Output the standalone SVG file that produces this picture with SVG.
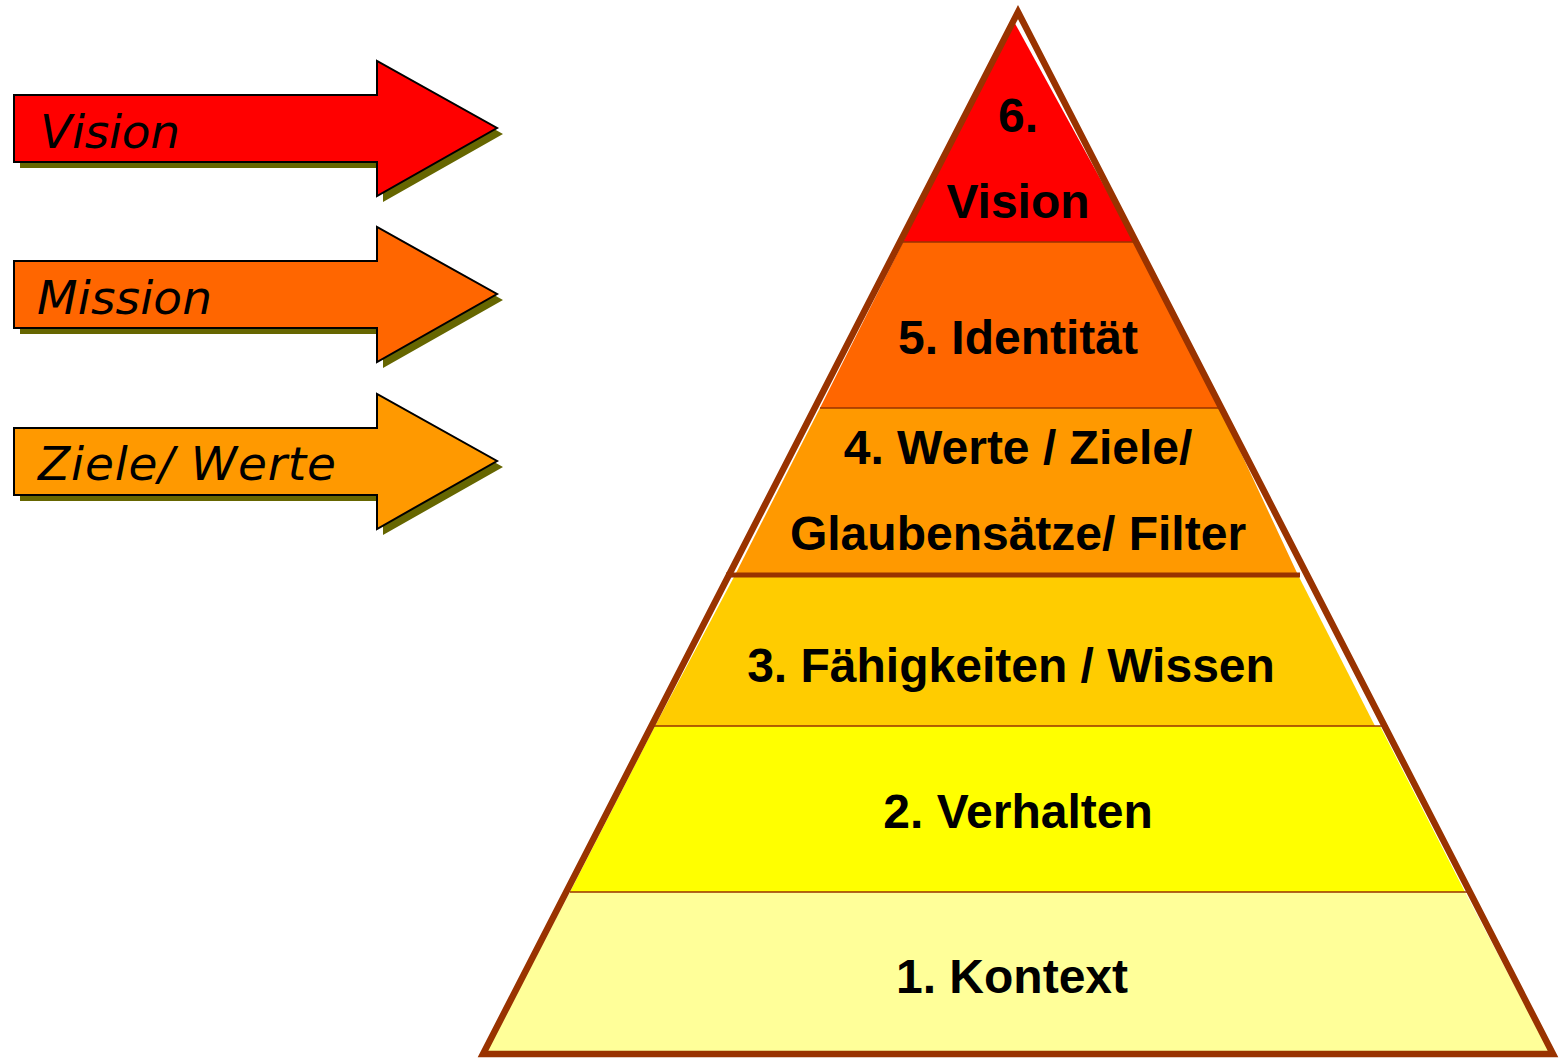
<svg xmlns="http://www.w3.org/2000/svg" width="1559" height="1058" viewBox="0 0 1559 1058">
<style>
.lbl{font-family:"Liberation Sans",Arial,sans-serif;font-weight:bold;font-size:48px;fill:#000;text-anchor:middle}
.arr{font-family:"DejaVu Sans",Verdana,sans-serif;font-style:italic;font-size:47px;fill:#000}
.sep{stroke:#993300;stroke-width:1.5}
.arrow{stroke:#000;stroke-width:2;stroke-linejoin:miter}
.shadow{fill:#666600}
</style>
<defs>
<path id="arrowShape" d="M14,95 H377 V61 L497,128 L377,196 V162 H14 Z"/>
</defs>
<rect width="1559" height="1058" fill="#fff"/>

<g id="arrow-vision">
<use href="#arrowShape" class="shadow" transform="translate(6,6)"/>
<use href="#arrowShape" class="arrow" fill="#FF0000"/>
<text class="arr" x="40" y="148" textLength="140" lengthAdjust="spacing">Vision</text>
</g>
<g id="arrow-mission">
<use href="#arrowShape" class="shadow" transform="translate(6,172)"/>
<use href="#arrowShape" class="arrow" fill="#FF6600" transform="translate(0,166)"/>
<text class="arr" x="37" y="314" textLength="175" lengthAdjust="spacing">Mission</text>
</g>
<g id="arrow-ziele">
<use href="#arrowShape" class="shadow" transform="translate(6,339)"/>
<use href="#arrowShape" class="arrow" fill="#FF9900" transform="translate(0,333)"/>
<text class="arr" x="38" y="480" textLength="298" lengthAdjust="spacing">Ziele/ Werte</text>
</g>

<g id="pyramid">
<g id="band-1">
<polygon points="570,892 1465,892 1551,1055 485,1055" fill="#FFFF99"/>
<text class="lbl" x="1012" y="993">1. Kontext</text>
</g>
<g id="band-2">
<polygon points="655,726 1380,726 1465,892 570,892" fill="#FFFF00"/>
<text class="lbl" x="1018" y="828">2. Verhalten</text>
</g>
<g id="band-3">
<polygon points="735,575 1298,575 1375,726 655,726" fill="#FFCC00"/>
<text class="lbl" x="1011" y="682">3. Fähigkeiten / Wissen</text>
</g>
<g id="band-4">
<polygon points="820,408 1220,408 1298,575 735,575" fill="#FF9900"/>
<text class="lbl" x="1018" y="464">4. Werte / Ziele/</text>
<text class="lbl" x="1018" y="550">Glaubensätze/ Filter</text>
</g>
<g id="band-5">
<polygon points="903,242 1135,242 1220,408 820,408" fill="#FF6600"/>
<text class="lbl" x="1018" y="354">5. Identität</text>
</g>
<g id="band-6">
<polygon points="1012,18 1135,242 903,242" fill="#FF0000"/>
<text class="lbl" x="1018" y="132">6.</text>
<text class="lbl" x="1018" y="218">Vision</text>
</g>
<g id="separators">
<line class="sep" x1="903" y1="242" x2="1135" y2="242"/>
<line class="sep" x1="820" y1="408" x2="1220" y2="408"/>
<line x1="726" y1="575" x2="1300" y2="575" stroke="#993300" stroke-width="5"/>
<line class="sep" x1="650" y1="726" x2="1388" y2="726"/>
<line class="sep" x1="570" y1="892" x2="1468" y2="892"/>
</g>
<polygon id="outline" points="1018,12 1553,1054 483,1054" fill="none" stroke="#993300" stroke-width="6.5" stroke-linejoin="miter"/>
</g>
</svg>
